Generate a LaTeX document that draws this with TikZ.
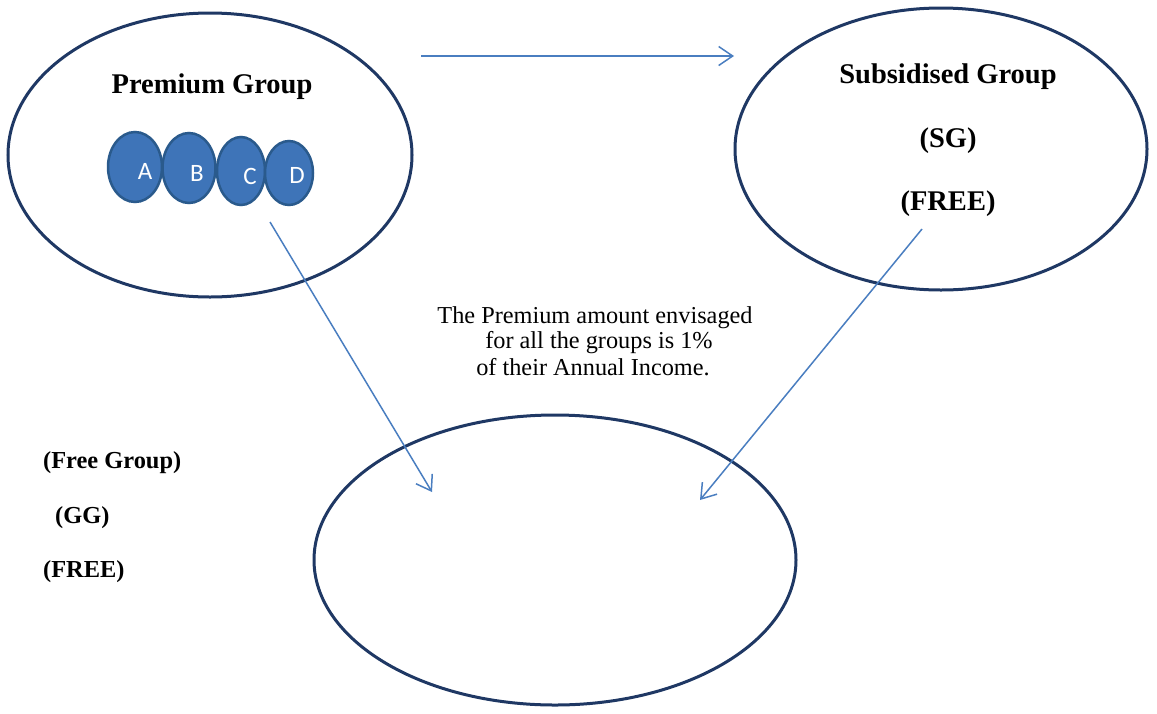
\documentclass[tikz,border=0pt]{standalone}
\usepackage{fontspec}
\setmainfont{Liberation Serif}
\newfontfamily\calib{Carlito}
\usetikzlibrary{shapes.geometric,arrows.meta}
\definecolor{navy}{HTML}{1F3864}
\definecolor{arrowblue}{HTML}{4A7EC0}
\definecolor{smallfill}{HTML}{3E74B8}
\definecolor{smalledge}{HTML}{2A5A8C}
\tikzset{
  big/.style={ellipse, draw=navy, line width=3pt, inner sep=0pt},
  small/.style={ellipse, draw=smalledge, fill=smallfill, line width=2.5pt, inner sep=0pt},
  letter/.style={text=white, font=\calib\fontsize{25}{28}\selectfont, inner sep=0pt},
  title/.style={font=\bfseries\fontsize{28.5}{32}\selectfont, inner sep=0pt},
  side/.style={font=\bfseries\fontsize{24.4}{28}\selectfont, inner sep=0pt, anchor=west},
  midtext/.style={font=\fontsize{24.3}{26}\selectfont, inner sep=0pt},
  conn/.style={draw=arrowblue, line width=1.5pt, -{Straight Barb[length=14pt,width=19pt,line width=1.5pt]}}
}
\begin{document}
\begin{tikzpicture}[x=1pt,y=-1pt]
\useasboundingbox (0,0) rectangle (1157,713);
% big ellipses
\node[big, minimum width=404pt, minimum height=284pt] (prem) at (210,155) {};
\node[big, minimum width=412pt, minimum height=282pt] (subs) at (941,149) {};
\node[big, minimum width=482pt, minimum height=290pt] (free) at (555,560) {};
% small ellipses
\node[small, minimum width=54pt, minimum height=70pt] (a) at (135,167) {};
\node[small, minimum width=53pt, minimum height=70pt] (b) at (189,168) {};
\node[small, minimum width=48pt, minimum height=68pt] (c) at (241,171) {};
\node[small, minimum width=48pt, minimum height=64pt] (d) at (289,173) {};
\node[letter] (la) at (145,171) {A};
\node[letter] (lb) at (197,173) {B};
\node[letter] (lc) at (250,176) {C};
\node[letter] (ld) at (297,175) {D};
% titles
\node[title] (tp) at (212,87) {Premium Group};
\node[title] (ts) at (948,77) {Subsidised Group};
\node[title] (tsg) at (948,141) {(SG)};
\node[title] (tfree) at (948,204) {(FREE)};
% middle text
\node[midtext] (mid1) at (595,318) {The Premium amount envisaged};
\node[midtext] (mid2) at (599,343) {for all the groups is 1\%};
\node[midtext] (mid3) at (593,367) {of their Annual Income.};
% side text
\node[side] (fg) at (43,463) {(Free Group)};
\node[side] (gg) at (55,518) {(GG)};
\node[side] (ff) at (43,572) {(FREE)};
% connectors
\coordinate (h1) at (421,56);
\coordinate (h2) at (734,56);
\coordinate (p1) at (270,222);
\coordinate (p2) at (432,492);
\coordinate (s1) at (922,229);
\coordinate (s2) at (700,500);
\draw[conn] (h1) -- (h2);
\draw[conn] (p1) -- (p2);
\draw[conn] (s1) -- (s2);
\end{tikzpicture}
\end{document}
